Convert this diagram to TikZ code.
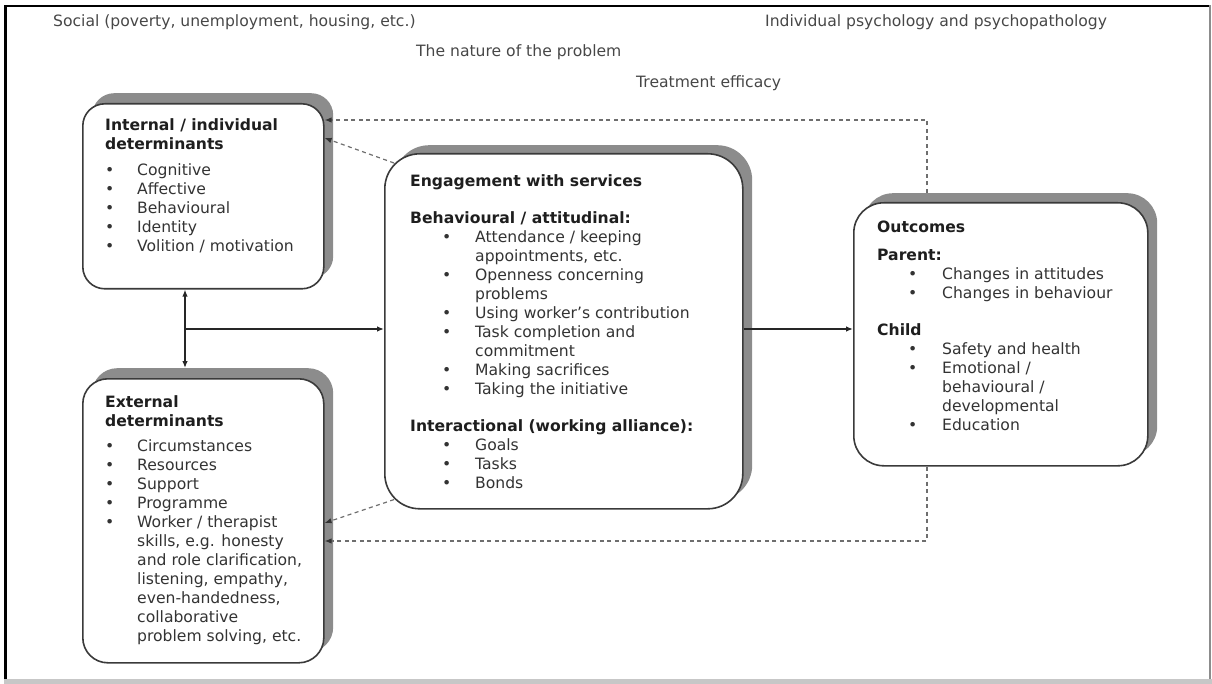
\documentclass[tikz,border=0pt]{standalone}
\usepackage{fontspec}
\setmainfont{DejaVu Sans}
\usetikzlibrary{arrows.meta,calc}

\definecolor{ink}{HTML}{333333}
\definecolor{head}{HTML}{1E1E1E}
\definecolor{shade}{HTML}{8C8C8C}
\definecolor{rim}{HTML}{3A3A3A}
\definecolor{dashgray}{HTML}{6E6E6E}

% bullet rows: left panels, centre panel, outcomes panel
\newcommand\bA{\makebox[32pt][l]{\textbullet}}
\newcommand\cA{\hspace*{32pt}}
\newcommand\bB{\hspace*{32pt}\makebox[33pt][l]{\textbullet}}
\newcommand\cB{\hspace*{65pt}}
\newcommand\bC{\hspace*{31pt}\makebox[34pt][l]{\textbullet}}
\newcommand\cC{\hspace*{65pt}}

\begin{document}
\begin{tikzpicture}[x=1pt,y=-1pt,
  font=\fontsize{15.6}{19}\selectfont,
  panel/.style={draw=rim, line width=1.6pt, fill=white, rounded corners=#1,
    inner sep=0pt, anchor=north west},
  panelshadow/.style={fill=shade, draw=none, rounded corners=#1,
    inner sep=0pt, anchor=north west},
  txt/.style={align=left, inner sep=0pt, anchor=north west, text=ink},
  toplabel/.style={inner sep=0pt, anchor=west, text=ink!90},
  arr/.style={draw=black!85, line width=1.3pt,
    -{Latex[length=7pt,width=5.5pt]}},
  darr/.style={draw=dashgray, line width=1.2pt, dash pattern=on 4pt off 3.5pt,
    -{Latex[length=7pt,width=5.5pt,color=black!80]}}
]
\useasboundingbox (0,0) rectangle (1212,684);

% page frame
\fill[black] (4,5) rectangle (1210,7.5);
\fill[black] (4,5) rectangle (6.5,684);
\fill[black!45] (1208.5,5) rectangle (1210.5,684);
\fill[black!22] (4,679) rectangle (1212,684);

% context labels
\node[toplabel] (social) at (53,22) {Social (poverty, unemployment, housing, etc.)};
\node[toplabel] (indiv) at (765,22) {Individual psychology and psychopathology};
\node[toplabel] (nature) at (416,52) {The nature of the problem};
\node[toplabel] (efficacy) at (636,83) {Treatment efficacy};

% shadows
\node[panelshadow=22pt, minimum width=241pt, minimum height=185pt] (int-sh) at (92,93) {};
\node[panelshadow=25pt, minimum width=241pt, minimum height=284pt] (ext-sh) at (92,368) {};
\node[panelshadow=35pt, minimum width=358pt, minimum height=355pt] (eng-sh) at (394,145) {};
\node[panelshadow=30pt, minimum width=294pt, minimum height=263pt] (out-sh) at (863,193) {};

% panels
\node[panel=22pt, minimum width=241pt, minimum height=185pt] (int) at (82,103) {};
\node[panel=25pt, minimum width=241pt, minimum height=284pt] (ext) at (82,378) {};
\node[panel=35pt, minimum width=358pt, minimum height=355pt] (eng) at (384,153) {};
\node[panel=30pt, minimum width=294pt, minimum height=263pt] (out) at (853,202) {};

% panel contents
\node[txt] (int-txt) at (105,118) {%
  \textcolor{head}{\textbf{Internal / individual}}\\
  \textcolor{head}{\textbf{determinants}}\\[7pt]
  \bA Cognitive\\
  \bA Affective\\
  \bA Behavioural\\
  \bA Identity\\
  \bA Volition / motivation};

\node[txt] (ext-txt) at (105,395) {%
  \textcolor{head}{\textbf{External}}\\
  \textcolor{head}{\textbf{determinants}}\\[6pt]
  \bA Circumstances\\
  \bA Resources\\
  \bA Support\\
  \bA Programme\\
  \bA Worker / therapist\\
  \cA skills, e.g. honesty\\
  \cA and role clarification,\\
  \cA listening, empathy,\\
  \cA even-handedness,\\
  \cA collaborative\\
  \cA problem solving, etc.};

\node[txt] (eng-txt) at (410,174) {%
  \textcolor{head}{\textbf{Engagement with services}}\\[18pt]
  \textcolor{head}{\textbf{Behavioural / attitudinal:}}\\
  \bB Attendance / keeping\\
  \cB appointments, etc.\\
  \bB Openness concerning\\
  \cB problems\\
  \bB Using worker's contribution\\
  \bB Task completion and\\
  \cB commitment\\
  \bB Making sacrifices\\
  \bB Taking the initiative\\[18pt]
  \textcolor{head}{\textbf{Interactional (working alliance):}}\\
  \bB Goals\\
  \bB Tasks\\
  \bB Bonds};

\node[txt] (out-txt) at (877,221) {%
  \textcolor{head}{\textbf{Outcomes}}\\[9pt]
  \textcolor{head}{\textbf{Parent:}}\\
  \bC Changes in attitudes\\
  \bC Changes in behaviour\\[18pt]
  \textcolor{head}{\textbf{Child}}\\
  \bC Safety and health\\
  \bC Emotional /\\
  \cC behavioural /\\
  \cC developmental\\
  \bC Education};

% solid connectors
\coordinate (jx) at (185,329);
\draw[arr] (jx) -- (int.south -| jx);
\draw[arr] (jx) -- (ext-sh.north -| jx);
\draw[arr] (jx) -- (jx -| eng.west);
\draw[arr] (eng.east |- jx) -- (out.west |- jx);

% dashed feedback loops
\coordinate (tc) at (927,120);
\coordinate (bc) at (927,541);
\draw[darr] (out-sh.north -| tc) -- (tc) -- (tc -| int.east);
\draw[darr] ($(eng.north west)+(10,10)$) -- ($(int.north east)+(0,35)$);
\draw[darr] (out.south -| bc) -- (bc) -- (bc -| ext.east);
\draw[darr] ($(eng.south west)+(10,-10)$) -- ($(ext.north east)+(0,145)$);
\end{tikzpicture}
\end{document}
